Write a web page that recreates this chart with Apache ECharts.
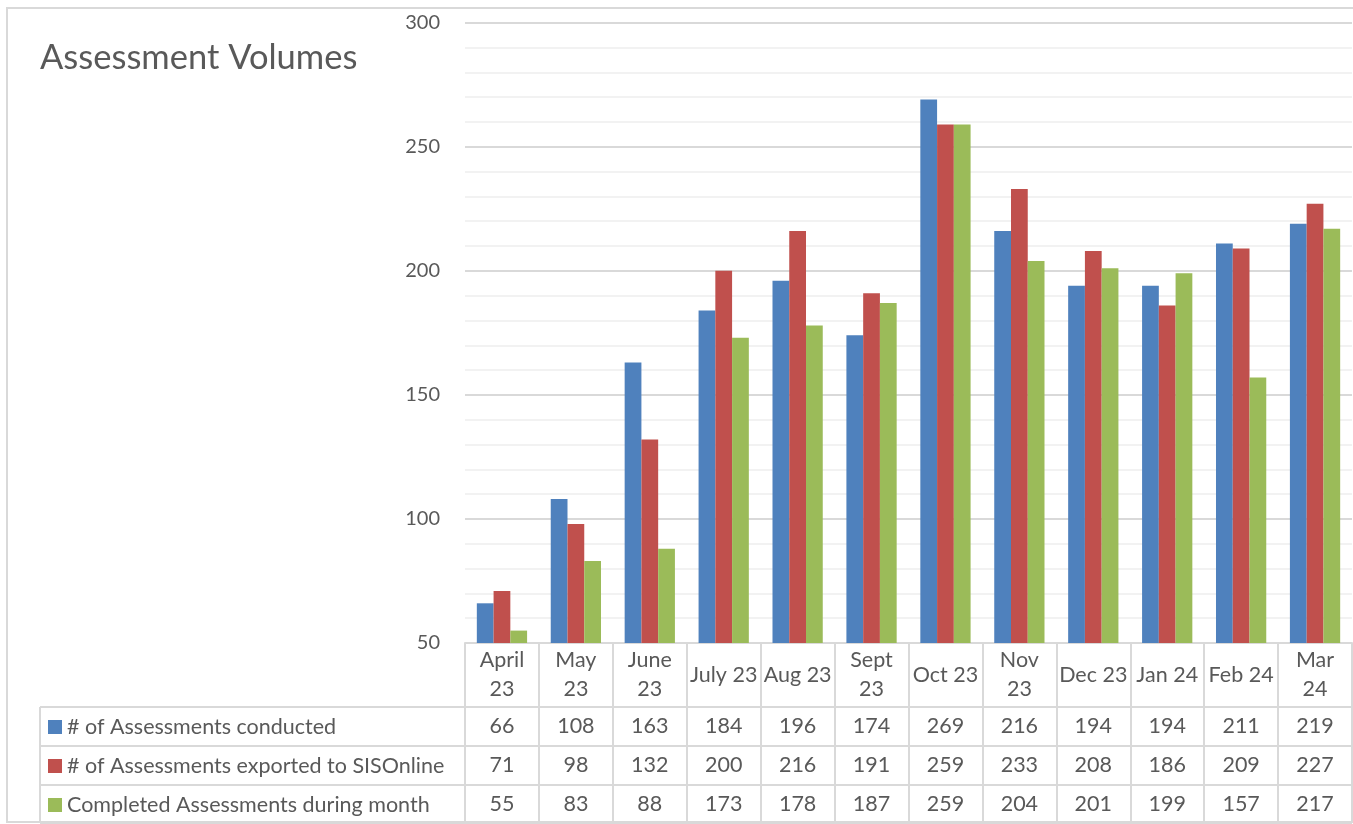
<!DOCTYPE html>
<html>
<head>
<meta charset="utf-8">
<script src="https://cdn.jsdelivr.net/npm/echarts@6/dist/echarts.min.js"></script>
<style>
  html, body { margin: 0; padding: 0; background: #fff; }
  #chart { width: 1353px; height: 824px; }
</style>
</head>
<body>
<div id="chart"></div>
<script>
var months = ['April 23', 'May 23', 'June 23', 'July 23', 'Aug 23', 'Sept 23', 'Oct 23', 'Nov 23', 'Dec 23', 'Jan 24', 'Feb 24', 'Mar 24'];
var headerLabels = ['April\n23', 'May\n23', 'June\n23', 'July 23', 'Aug 23', 'Sept\n23', 'Oct 23', 'Nov\n23', 'Dec 23', 'Jan 24', 'Feb 24', 'Mar\n24'];
var seriesNames = ['# of Assessments conducted', '# of Assessments exported to SISOnline', 'Completed Assessments during month'];
var conducted = [66, 108, 163, 184, 196, 174, 269, 216, 194, 194, 211, 219];
var exported = [71, 98, 132, 200, 216, 191, 259, 233, 208, 186, 209, 227];
var completed = [55, 83, 88, 173, 178, 187, 259, 204, 201, 199, 157, 217];
var yTicks = [50, 100, 150, 200, 250, 300];

var colors = ['#4F81BD', '#C0504D', '#9BBB59'];
var values = [conducted, exported, completed];
var font = 'Lato, "Open Sans", sans-serif';
var textColor = '#595959';
var lineColor = '#d9d9d9';

// layout of the data table (pixels)
var plotLeft = 465, plotRight = 1352, axisY = 643;
var tableLeft = 40, rowTops = [707, 746, 785], tableBottom = 823;

var myChart = echarts.init(document.getElementById('chart'));

var xAxes = [{
    type: 'category',
    data: months,
    position: 'bottom',
    axisLine: { lineStyle: { color: lineColor, width: 2 } },
    axisTick: { show: true, length: tableBottom - axisY, lineStyle: { color: lineColor, width: 2 } },
    axisLabel: {
        interval: 0,
        margin: 32,
        verticalAlign: 'middle',
        fontFamily: font, fontSize: 21.5, lineHeight: 29, color: textColor,
        formatter: function (v, i) { return headerLabels[i]; }
    }
}];
// one hidden axis per table row, only its labels show the numbers
values.forEach(function (arr, k) {
    var center = (rowTops[k] + (k < 2 ? rowTops[k + 1] : tableBottom)) / 2;
    xAxes.push({
        type: 'category',
        data: months,
        position: 'bottom',
        offset: center - axisY,
        axisLine: { show: false },
        axisTick: { show: false },
        axisLabel: {
            interval: 0,
            margin: 0,
            verticalAlign: 'middle',
            fontFamily: font, fontSize: 21.5, color: textColor,
            formatter: function (v, i) { return String(arr[i]); }
        }
    });
});

var lines = [];
rowTops.concat([tableBottom]).forEach(function (y) {
    lines.push({ type: 'line', shape: { x1: tableLeft, y1: y, x2: plotRight, y2: y }, style: { stroke: lineColor, lineWidth: 2 }, silent: true });
});
lines.push({ type: 'line', shape: { x1: tableLeft, y1: rowTops[0], x2: tableLeft, y2: tableBottom }, style: { stroke: lineColor, lineWidth: 2 }, silent: true });
// outer chart border
lines.push({ type: 'rect', shape: { x: 7, y: 8, width: 1360, height: 814 }, style: { fill: null, stroke: lineColor, lineWidth: 2 }, silent: true, z: -1 });

var option = {
    animation: false,
    color: colors,
    title: {
        text: 'Assessment Volumes',
        left: 40,
        top: 40,
        padding: 0,
        textStyle: { fontFamily: font, fontSize: 34.5, fontWeight: 'normal', color: textColor }
    },
    legend: {
        orient: 'vertical',
        left: 48,
        top: 716,
        padding: 0,
        itemWidth: 14,
        itemHeight: 14,
        itemGap: 17,
        icon: 'rect',
        selectedMode: false,
        data: seriesNames,
        textStyle: { fontFamily: font, fontSize: 21.5, lineHeight: 22, color: textColor }
    },
    grid: {
        left: plotLeft,
        right: 1353 - plotRight,
        top: 22.7,
        bottom: 824 - axisY,
        containLabel: false
    },
    xAxis: xAxes,
    yAxis: {
        type: 'value',
        min: yTicks[0],
        max: yTicks[yTicks.length - 1],
        interval: 50,
        axisLine: { show: false },
        axisTick: { show: false },
        axisLabel: { margin: 25, fontFamily: font, fontSize: 20, color: textColor },
        splitLine: { lineStyle: { color: lineColor, width: 2 } },
        minorTick: { show: false, splitNumber: 5 },
        minorSplitLine: { show: true, lineStyle: { color: '#f2f2f2', width: 2 } }
    },
    graphic: lines,
    series: seriesNames.map(function (name, k) {
        return {
            name: name,
            type: 'bar',
            data: values[k],
            barGap: 0,
            barCategoryGap: '32%',
            itemStyle: { color: colors[k] }
        };
    })
};
myChart.setOption(option);
</script>
</body>
</html>
